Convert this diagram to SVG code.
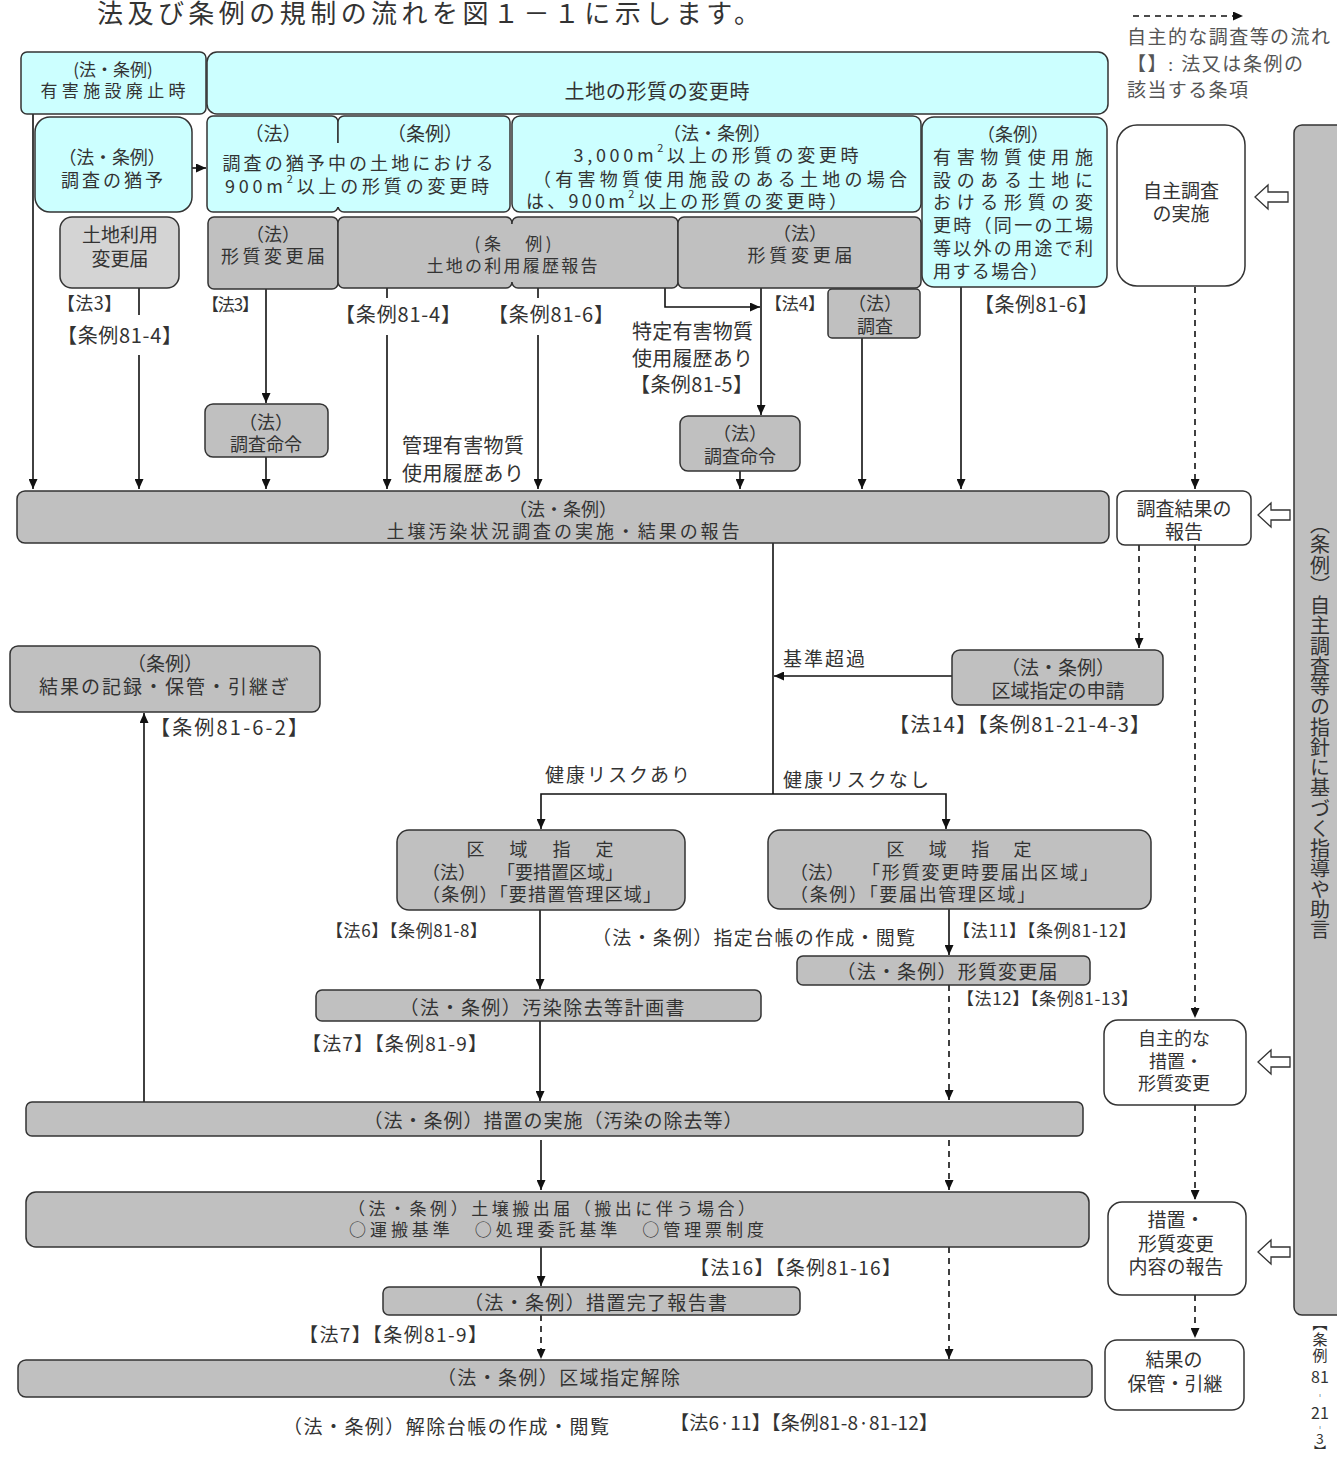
<svg xmlns="http://www.w3.org/2000/svg" width="1337" height="1457" viewBox="0 0 1337 1457">
<style>
text{font-family:"Noto Sans CJK JP","Noto Sans",sans-serif;font-size:19px;fill:#333;dominant-baseline:central}
.m{text-anchor:middle}
.t{font-size:18px}
.t17{font-size:17px}
.l20{font-size:20px}
.cy{fill:#ccffff;stroke:#333;stroke-width:1.5}
.gy{fill:#c0c0c0;stroke:#333;stroke-width:1.5}
.lg{fill:#d4d4d4;stroke:#333;stroke-width:1.5}
.wh{fill:#fff;stroke:#333;stroke-width:1.5}
.ln{fill:none;stroke:#111;stroke-width:1.6}
.ds{stroke-dasharray:6 5}
.ar{marker-end:url(#ah)}
.sf{font-family:"Liberation Serif","Noto Sans CJK JP",serif;fill:#555}
.ho{fill:#fff;stroke:#333;stroke-width:1.3}
.v{font-size:15px}
</style>
<defs>
<marker id="ah" markerUnits="userSpaceOnUse" markerWidth="11" markerHeight="9" refX="10" refY="4.5" orient="auto">
<path d="M0,0 L10,4.5 L0,9 z" fill="#111"/>
</marker>
</defs>
<rect width="1337" height="1457" fill="#fff"/>

<text class="sf" x="97" y="14" textLength="663" style="font-size:26px;fill:#333">法及び条例の規制の流れを図１－１に示します。</text>

<g id="legend">
<path class="ln ds ar" d="M1133,16 H1243"/>
<text class="sf" x="1127" y="37" textLength="203" style="font-size:19px">自主的な調査等の流れ</text>
<text class="sf" x="1127" y="64" textLength="176" style="font-size:19px">【】: 法又は条例の</text>
<text class="sf" x="1127" y="90" textLength="121" style="font-size:19px">該当する条項</text>
</g>

<g id="connectors">
<path class="ln ar" d="M33,114 V489"/>
<path class="ln" d="M139,288 V315"/>
<path class="ln ar" d="M139,355 V489"/>
<path class="ln ar" d="M266,289 V403"/>
<path class="ln ar" d="M266,457 V489"/>
<path class="ln" d="M387,288 V298"/>
<path class="ln ar" d="M387,335 V489"/>
<path class="ln" d="M538,288 V298"/>
<path class="ln ar" d="M538,335 V489"/>
<path class="ln ar" d="M665,288 V307 H760"/>
<path class="ln ar" d="M761,288 V415"/>
<path class="ln ar" d="M740,471 V489"/>
<path class="ln ar" d="M862,338 V489"/>
<path class="ln ar" d="M961,287 V489"/>
<path class="ln ar" d="M192,168 H206"/>
<path class="ln ds ar" d="M1195,287 V489"/>
<path class="ln" d="M773,543 V794"/>
<path class="ln ar" d="M952,676 H774"/>
<path class="ln ds ar" d="M1139,545 V648"/>
<path class="ln ds ar" d="M1195,545 V1018"/>
<path class="ln ar" d="M773,794 H541 V829"/>
<path class="ln ar" d="M773,794 H946 V829"/>
<path class="ln ar" d="M540,910 V989"/>
<path class="ln ar" d="M949,909 V955"/>
<path class="ln ds ar" d="M949,985 V1100"/>
<path class="ln ar" d="M540,1021 V1101"/>
<path class="ln ar" d="M144,1102 V713"/>
<path class="ln ar" d="M541,1140 V1190"/>
<path class="ln ds ar" d="M949,1140 V1190"/>
<path class="ln ds ar" d="M1195,1105 V1200"/>
<path class="ln ar" d="M541,1247 V1286"/>
<path class="ln ds ar" d="M541,1315 V1359"/>
<path class="ln ds ar" d="M949,1247 V1359"/>
<path class="ln ds ar" d="M1195,1295 V1338"/>
<polygon class="ho" points="1255,197 1268,185 1268,192 1288,192 1288,202 1268,202 1268,209"/>
<polygon class="ho" points="1258,515 1271,503 1271,510 1290,510 1290,520 1271,520 1271,527"/>
<polygon class="ho" points="1258,1062 1271,1050 1271,1057 1290,1057 1290,1067 1271,1067 1271,1074"/>
<polygon class="ho" points="1258,1252 1271,1240 1271,1247 1290,1247 1290,1257 1271,1257 1271,1264"/>
</g>

<g id="labels">
<text class="t" x="57" y="302" textLength="65">【法3】</text>
<text class="l20" x="57" y="334" textLength="125">【条例81-4】</text>
<text class="t17" x="202" y="303" textLength="57">【法3】</text>
<text class="l20" x="335" y="313" textLength="126">【条例81-4】</text>
<text class="l20" x="488" y="313" textLength="126">【条例81-6】</text>
<text class="l20" x="402" y="444" textLength="122">管理有害物質</text>
<text class="l20" x="402" y="472" textLength="122">使用履歴あり</text>
<text class="t17" x="765" y="302" textLength="60">【法4】</text>
<text class="l20" x="632" y="330" textLength="121">特定有害物質</text>
<text class="l20" x="632" y="357" textLength="121">使用履歴あり</text>
<text class="l20" x="630" y="383" textLength="123">【条例81-5】</text>
<text class="l20" x="974" y="303" textLength="124">【条例81-6】</text>
<text x="783" y="657" textLength="82">基準超過</text>
<text class="l20" x="889" y="723" textLength="261">【法14】【条例81-21-4-3】</text>
<text class="l20" x="150" y="726" textLength="158">【条例81-6-2】</text>
<text x="545" y="773" textLength="145">健康リスクあり</text>
<text x="783" y="778" textLength="146">健康リスクなし</text>
<text class="t17" x="326" y="929" textLength="161">【法6】【条例81-8】</text>
<text x="592" y="936" textLength="323">（法・条例）指定台帳の作成・閲覧</text>
<text class="t17" x="953" y="929" textLength="183">【法11】【条例81-12】</text>
<text class="t17" x="957" y="997" textLength="181">【法12】【条例81-13】</text>
<text x="302" y="1042" textLength="185">【法7】【条例81-9】</text>
<text x="690" y="1266" textLength="211">【法16】【条例81-16】</text>
<text x="299" y="1333" textLength="188">【法7】【条例81-9】</text>
<text x="283" y="1425" textLength="326">（法・条例）解除台帳の作成・閲覧</text>
<text x="670" y="1421" textLength="268">【法6·11】【条例81-8·81-12】</text>
</g>

<g id="n-haishi">
<rect class="cy" x="21" y="52" width="185" height="62" rx="6"/>
<text class="m t17" x="113" y="68">(法・条例)</text>
<text class="m t17" x="113" y="89" textLength="145">有害施設廃止時</text>
</g>

<g id="n-henkou">
<rect class="cy" x="207" y="52" width="901" height="62" rx="10"/>
<text class="m l20" x="657" y="90" textLength="185">土地の形質の変更時</text>
</g>

<g id="n-yuuyo">
<rect class="cy" x="35" y="117" width="157" height="95" rx="15"/>
<text class="m t" x="112" y="156" textLength="107">（法・条例）</text>
<text class="m t" x="112" y="179" textLength="102">調査の猶予</text>
</g>

<g id="n-yuuyochu">
<rect class="cy" x="207" y="116" width="131" height="96" rx="6"/>
<rect class="cy" x="338" y="116" width="172" height="96" rx="6"/>
<rect x="333" y="143" width="10" height="64" fill="#ccffff"/>
<text class="m" x="273" y="132">（法）</text>
<text class="m" x="425" y="132">（条例）</text>
<text class="m t" x="358" y="162" textLength="271">調査の猶予中の土地における</text>
<text class="m t" x="357" y="185" textLength="264">900m<tspan dy="-7" font-size="11">2</tspan><tspan dy="7">以上の形質の変更時</tspan></text>
</g>

<g id="n-3000">
<rect class="cy" x="512" y="116" width="409" height="96" rx="8"/>
<text class="m t" x="717" y="132">（法・条例）</text>
<text class="m t" x="716" y="154" textLength="285">3,000m<tspan dy="-7" font-size="11">2</tspan><tspan dy="7">以上の形質の変更時</tspan></text>
<text class="m t" x="720" y="178" textLength="374">（有害物質使用施設のある土地の場合</text>
<text class="t" x="526" y="200" textLength="321">は、900m<tspan dy="-7" font-size="11">2</tspan><tspan dy="7">以上の形質の変更時）</tspan></text>
</g>

<g id="n-jourei-yugai">
<rect class="cy" x="922" y="117" width="185" height="170" rx="12"/>
<text class="m t" x="1013" y="133">（条例）</text>
<text class="t" x="933" y="156" textLength="160">有害物質使用施</text>
<text class="t" x="933" y="179" textLength="160">設のある土地に</text>
<text class="t" x="933" y="201" textLength="160">おける形質の変</text>
<text class="t" x="933" y="224" textLength="160">更時（同一の工場</text>
<text class="t" x="933" y="247" textLength="160">等以外の用途で利</text>
<text class="t" x="933" y="270" textLength="115">用する場合）</text>
</g>

<g id="n-tochiriyou">
<rect class="lg" x="60" y="217" width="119" height="71" rx="12"/>
<text class="m" x="120" y="233">土地利用</text>
<text class="m" x="120" y="257">変更届</text>
</g>

<g id="n-keishitsu-hou">
<rect class="gy" x="208" y="217" width="130" height="72" rx="6"/>
<text class="m t" x="273" y="233">（法）</text>
<text class="m t" x="273" y="255" textLength="104">形質変更届</text>
</g>

<g id="n-rireki">
<rect class="gy" x="338" y="217" width="174" height="71" rx="6"/>
<rect class="gy" x="512" y="217" width="166" height="71" rx="6"/>
<rect x="506" y="224" width="12" height="58" fill="#c0c0c0"/>
<text class="m t17" x="513" y="242" textLength="77">(条　例)</text>
<text class="m t17" x="512" y="264" textLength="171">土地の利用履歴報告</text>
</g>

<g id="n-keishitsu-hou2">
<rect class="gy" x="678" y="217" width="243" height="71" rx="6"/>
<text class="m t" x="800" y="232">（法）</text>
<text class="m t" x="800" y="254" textLength="105">形質変更届</text>
</g>

<g id="n-chousa">
<rect class="gy" x="828" y="289" width="92" height="49" rx="4"/>
<text class="m t" x="875" y="302">（法）</text>
<text class="m t" x="875" y="325">調査</text>
</g>

<g id="n-meirei1">
<rect class="gy" x="205" y="404" width="123" height="53" rx="8"/>
<text class="m t" x="266" y="421">（法）</text>
<text class="m t" x="266" y="443">調査命令</text>
</g>

<g id="n-meirei2">
<rect class="gy" x="680" y="416" width="120" height="55" rx="8"/>
<text class="m t" x="740" y="432">（法）</text>
<text class="m t" x="740" y="455">調査命令</text>
</g>

<g id="n-dojou">
<rect class="gy" x="17" y="491" width="1092" height="52" rx="8"/>
<text class="m t" x="563" y="508">（法・条例）</text>
<text class="m t" x="563" y="530" textLength="353">土壌汚染状況調査の実施・結果の報告</text>
</g>

<g id="n-chousakekka">
<rect class="wh" x="1117" y="491" width="134" height="54" rx="8"/>
<text class="m" x="1184" y="507">調査結果の</text>
<text class="m" x="1184" y="530">報告</text>
</g>

<g id="n-jishu">
<rect class="wh" x="1117" y="125" width="128" height="161" rx="20"/>
<text class="m" x="1181" y="189">自主調査</text>
<text class="m" x="1181" y="212">の実施</text>
</g>

<g id="n-shishin">
<rect class="gy" x="1294" y="125" width="70" height="1190" rx="8"/>
<text class="m l20" x="1320" y="727" style="writing-mode:vertical-rl" textLength="425">（条例）自主調査等の指針に基づく指導や助言</text>
</g>

<g id="n-shishin-ref">
<text class="m v" x="1320" y="1322">︻</text>
<text class="m v" x="1320" y="1338">条</text>
<text class="m v" x="1320" y="1354">例</text>
<text class="m" x="1320" y="1376" style="font-size:16px">81</text>
<text class="m" x="1320" y="1395" style="font-size:12px">︲</text>
<text class="m" x="1320" y="1412" style="font-size:16px">21</text>
<text class="m" x="1320" y="1427" style="font-size:12px">︲</text>
<text class="m" x="1320" y="1438" style="font-size:14px">3</text>
<text class="m" x="1320" y="1450" style="font-size:12px">︼</text>
</g>

<g id="n-shinsei">
<rect class="gy" x="952" y="650" width="211" height="55" rx="8"/>
<text class="m" x="1058" y="666">（法・条例）</text>
<text class="m" x="1058" y="689">区域指定の申請</text>
</g>

<g id="n-kiroku">
<rect class="gy" x="10" y="646" width="310" height="66" rx="8"/>
<text class="m" x="165" y="662">（条例）</text>
<text class="m" x="164" y="685" textLength="250">結果の記録・保管・引継ぎ</text>
</g>

<g id="n-kuiki1">
<rect class="gy" x="397" y="830" width="288" height="80" rx="12"/>
<text class="m t" x="540" y="848" textLength="147">区　域　指　定</text>
<text class="t" x="422" y="871">（法）</text>
<text class="t" x="497" y="871">「要措置区域」</text>
<text class="t" x="422" y="893" textLength="239">（条例）「要措置管理区域」</text>
</g>

<g id="n-kuiki2">
<rect class="gy" x="768" y="830" width="383" height="79" rx="12"/>
<text class="m t" x="959" y="848" textLength="145">区　域　指　定</text>
<text class="t" x="790" y="871">（法）</text>
<text class="t" x="862" y="871" textLength="236">「形質変更時要届出区域」</text>
<text class="t" x="790" y="893" textLength="245">（条例）「要届出管理区域」</text>
</g>

<g id="n-keikaku">
<rect class="gy" x="316" y="990" width="445" height="31" rx="6"/>
<text class="m" x="542" y="1006" textLength="285">（法・条例）汚染除去等計画書</text>
</g>

<g id="n-keishitsu-todoke">
<rect class="gy" x="797" y="956" width="293" height="29" rx="6"/>
<text class="m" x="947" y="970" textLength="221">（法・条例）形質変更届</text>
</g>

<g id="n-sochi">
<rect class="gy" x="26" y="1102" width="1057" height="34" rx="6"/>
<text class="m" x="553" y="1119" textLength="379">（法・条例）措置の実施（汚染の除去等）</text>
</g>

<g id="n-jishusochi">
<rect class="wh" x="1104" y="1020" width="142" height="85" rx="14"/>
<text class="m t" x="1174" y="1037">自主的な</text>
<text class="m t" x="1176" y="1060">措置・</text>
<text class="m t" x="1174" y="1082">形質変更</text>
</g>

<g id="n-hanshutsu">
<rect class="gy" x="26" y="1192" width="1063" height="55" rx="10"/>
<text class="t17" x="348" y="1207" textLength="407">（法・条例）土壌搬出届（搬出に伴う場合）</text>
<text class="t17" x="349" y="1228" textLength="415">○運搬基準　○処理委託基準　○管理票制度</text>
</g>

<g id="n-kanryou">
<rect class="gy" x="383" y="1287" width="417" height="28" rx="6"/>
<text x="464" y="1301" textLength="263">（法・条例）措置完了報告書</text>
</g>

<g id="n-sochihoukoku">
<rect class="wh" x="1108" y="1202" width="138" height="93" rx="14"/>
<text class="m" x="1176" y="1218">措置・</text>
<text class="m" x="1176" y="1242">形質変更</text>
<text class="m" x="1176" y="1265">内容の報告</text>
</g>

<g id="n-kaijo">
<rect class="gy" x="18" y="1360" width="1074" height="37" rx="8"/>
<text x="437" y="1376" textLength="243">（法・条例）区域指定解除</text>
</g>

<g id="n-hokan">
<rect class="wh" x="1105" y="1340" width="139" height="70" rx="12"/>
<text class="m" x="1174" y="1358">結果の</text>
<text class="m" x="1175" y="1382">保管・引継</text>
</g>
</svg>
